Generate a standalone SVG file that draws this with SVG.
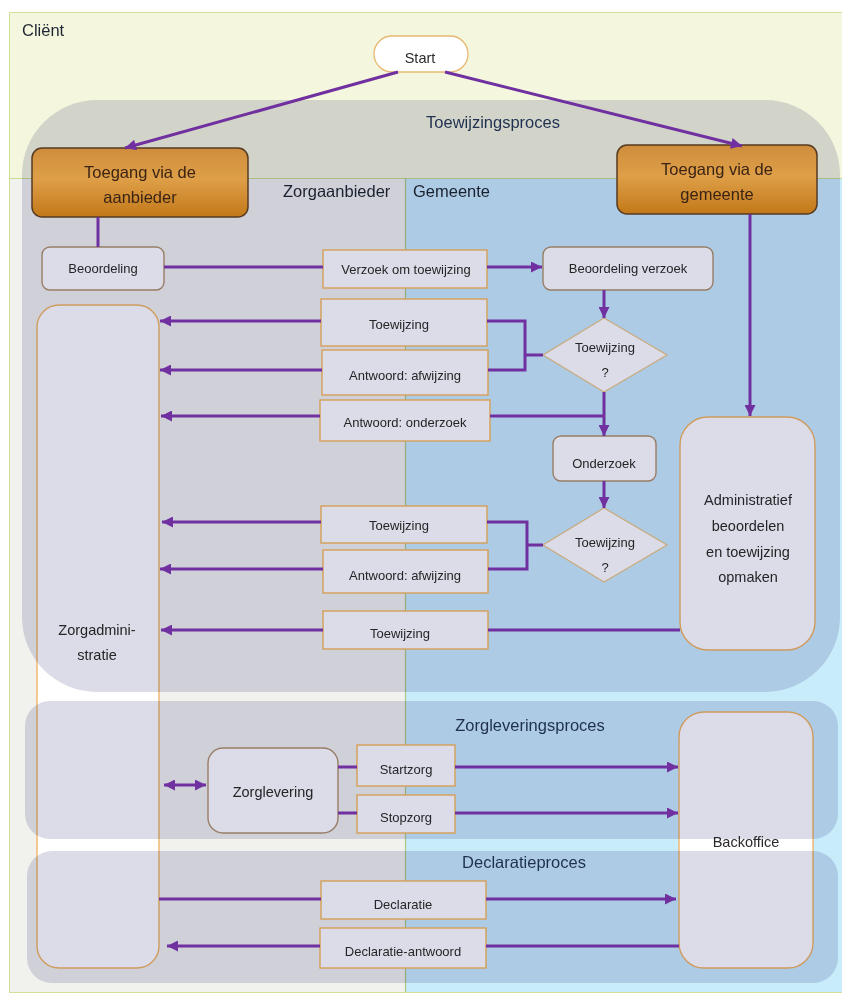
<svg xmlns="http://www.w3.org/2000/svg" width="842" height="994" viewBox="0 0 842 994">
<defs>
<linearGradient id="orange" x1="0" y1="0" x2="0" y2="1">
<stop offset="0" stop-color="#cf8d3c"/>
<stop offset="0.45" stop-color="#de9f48"/>
<stop offset="1" stop-color="#c27818"/>
</linearGradient>
<marker id="ah" viewBox="0 0 10 10" refX="10" refY="5" markerWidth="12" markerHeight="11" markerUnits="userSpaceOnUse" orient="auto-start-reverse">
<path d="M0,0 L10,5 L0,10 z" fill="#7030a0"/>
</marker>
</defs>
<style>
text{font-family:"Liberation Sans",Arial,sans-serif;fill:#2b2b2b}
.lbl{font-size:16.5px;fill:#1e2632}
.plbl{font-size:16.5px;fill:#1f3050;text-anchor:middle}
.bt{font-size:13px;text-anchor:middle;fill:#2a2a2a}
.big{font-size:14.5px;text-anchor:middle;fill:#2a2a2a}
.tg{font-size:16.5px;text-anchor:middle;fill:#3b2414}
.panel{fill:#dcdce8;mix-blend-mode:multiply}
.rbox{fill:#ffffff;stroke:#b09270;stroke-width:1.4}
.obox{fill:#ffffff;stroke:#f8b860;stroke-width:1.4}
.ybox{fill:#ffffff;stroke:#f0b468;stroke-width:1.4}
.dia{fill:#ffffff;stroke:#e8c890;stroke-width:1.4}
.tgbox{fill:url(#orange);stroke:#563a22;stroke-width:1.5}
.c{fill:none;stroke:#7030a0;stroke-width:3}
.a{marker-end:url(#ah)}
</style>

<g id="lanes">
<rect x="0" y="0" width="842" height="994" fill="#ffffff"/>
<rect id="lane-client" x="9.5" y="12.5" width="840" height="980" fill="#f4f6de" stroke="#cfe09a" stroke-width="1"/>
<rect id="lane-zorgaanbieder" x="10" y="178" width="395" height="814" fill="#f1f1ee"/>
<rect id="lane-gemeente" x="405" y="178" width="437" height="814" fill="#c9ecfb"/>
<line x1="10" y1="178.5" x2="842" y2="178.5" stroke="#c6dc8e" stroke-width="1"/>
<line x1="405.5" y1="178" x2="405.5" y2="992" stroke="#a9c985" stroke-width="1.2"/>
<text class="lbl" x="22" y="36">Cliënt</text>
<text class="lbl" x="283" y="197">Zorgaanbieder</text>
<text class="lbl" x="413" y="197">Gemeente</text>
</g>

<g id="start">
<rect x="374" y="36" width="94" height="36" rx="18" fill="#ffffff" stroke="#e8b872" stroke-width="1.3"/>
<text class="big" x="420" y="63">Start</text>
</g>
<g id="beoordeling">
<rect class="rbox" x="42" y="247" width="122" height="43" rx="8"/>
<text class="bt" x="103" y="273">Beoordeling</text>
</g>
<g id="verzoek">
<rect class="obox" x="323" y="250" width="164" height="38"/>
<text class="bt" x="406" y="274">Verzoek om toewijzing</text>
</g>
<g id="beoordeling-verzoek">
<rect class="rbox" x="543" y="247" width="170" height="43" rx="8"/>
<text class="bt" x="628" y="273">Beoordeling verzoek</text>
</g>
<g id="toewijzing-1">
<rect class="obox" x="321" y="299" width="166" height="47"/>
<text class="bt" x="399" y="329">Toewijzing</text>
</g>
<g id="afwijzing-1">
<rect class="obox" x="322" y="350" width="166" height="45"/>
<text class="bt" x="405" y="380">Antwoord: afwijzing</text>
</g>
<g id="onderzoek-antwoord">
<rect class="obox" x="320" y="400" width="170" height="41"/>
<text class="bt" x="405" y="427">Antwoord: onderzoek</text>
</g>
<g id="beslissing-1">
<polygon class="dia" points="604,318 667,355 604,392 543,355"/>
<text class="bt" x="605" y="352">Toewijzing</text>
<text class="bt" x="605" y="377">?</text>
</g>
<g id="onderzoek">
<rect class="rbox" x="553" y="436" width="103" height="45" rx="8"/>
<text class="bt" x="604" y="468">Onderzoek</text>
</g>
<g id="beslissing-2">
<polygon class="dia" points="604,508 667,545 604,582 543,545"/>
<text class="bt" x="605" y="547">Toewijzing</text>
<text class="bt" x="605" y="572">?</text>
</g>
<g id="toewijzing-2">
<rect class="obox" x="321" y="506" width="166" height="37"/>
<text class="bt" x="399" y="530">Toewijzing</text>
</g>
<g id="afwijzing-2">
<rect class="obox" x="323" y="550" width="165" height="43"/>
<text class="bt" x="405" y="580">Antwoord: afwijzing</text>
</g>
<g id="toewijzing-3">
<rect class="obox" x="323" y="611" width="165" height="38"/>
<text class="bt" x="400" y="638">Toewijzing</text>
</g>
<g id="administratief">
<rect class="ybox" x="680" y="417" width="135" height="233" rx="28"/>
<text class="big" x="748" y="505">Administratief</text>
<text class="big" x="748" y="531">beoordelen</text>
<text class="big" x="748" y="557">en toewijzing</text>
<text class="big" x="748" y="582">opmaken</text>
</g>
<g id="zorgadministratie">
<rect class="ybox" x="37" y="305" width="122" height="663" rx="22"/>
<text class="big" x="97" y="635">Zorgadmini-</text>
<text class="big" x="97" y="660">stratie</text>
</g>
<g id="zorglevering">
<rect class="rbox" x="208" y="748" width="130" height="85" rx="15"/>
<text class="big" x="273" y="797">Zorglevering</text>
</g>
<g id="startzorg">
<rect class="obox" x="357" y="745" width="98" height="41"/>
<text class="bt" x="406" y="774">Startzorg</text>
</g>
<g id="stopzorg">
<rect class="obox" x="357" y="795" width="98" height="38"/>
<text class="bt" x="406" y="822">Stopzorg</text>
</g>
<g id="backoffice">
<rect class="ybox" x="679" y="712" width="134" height="256" rx="25"/>
<text class="big" x="746" y="847">Backoffice</text>
</g>
<g id="declaratie">
<rect class="obox" x="321" y="881" width="165" height="38"/>
<text class="bt" x="403" y="909">Declaratie</text>
</g>
<g id="declaratie-antwoord">
<rect class="obox" x="320" y="928" width="166" height="40"/>
<text class="bt" x="403" y="956">Declaratie-antwoord</text>
</g>

<g id="panels">
<g id="toewijzingsproces">
<rect class="panel" x="22" y="100" width="818" height="592" rx="75"/>
<text class="plbl" x="493" y="128">Toewijzingsproces</text>
</g>
<g id="zorgleveringsproces">
<rect class="panel" x="25" y="701" width="813" height="138" rx="25"/>
<text class="plbl" x="530" y="731">Zorgleveringsproces</text>
</g>
<g id="declaratieproces">
<rect class="panel" x="27" y="851" width="811" height="132" rx="25"/>
<text class="plbl" x="524" y="868">Declaratieproces</text>
</g>
</g>

<g id="toegang-aanbieder">
<rect class="tgbox" x="32" y="148" width="216" height="69" rx="10"/>
<text class="tg" x="140" y="178">Toegang via de</text>
<text class="tg" x="140" y="203">aanbieder</text>
</g>
<g id="toegang-gemeente">
<rect class="tgbox" x="617" y="145" width="200" height="69" rx="10"/>
<text class="tg" x="717" y="175">Toegang via de</text>
<text class="tg" x="717" y="200">gemeente</text>
</g>

<g id="connectors">
<path class="c a" d="M398,72 L125,148"/>
<path class="c a" d="M445,72 L742,146"/>
<path class="c" d="M98,217 V247"/>
<path class="c" d="M164,267 H323"/>
<path class="c a" d="M487,267 H542"/>
<path class="c a" d="M604,290 V318"/>
<path class="c" d="M543,355 H525 M487,321 H525 V370 H488"/>
<path class="c a" d="M321,321 H160"/>
<path class="c a" d="M322,370 H160"/>
<path class="c a" d="M604,392 V436"/>
<path class="c" d="M490,416 H604"/>
<path class="c a" d="M320,416 H161"/>
<path class="c a" d="M604,481 V508"/>
<path class="c" d="M543,545 H527 M487,522 H527 V569 H488"/>
<path class="c a" d="M321,522 H162"/>
<path class="c a" d="M323,569 H160"/>
<path class="c" d="M680,630 H488"/>
<path class="c a" d="M323,630 H161"/>
<path class="c a" d="M750,214 V416"/>
<path class="c a" d="M164,785 H206" marker-start="url(#ah)"/>
<path class="c" d="M338,767 H357 M338,813 H357"/>
<path class="c a" d="M455,767 H678"/>
<path class="c a" d="M455,813 H678"/>
<path class="c" d="M159,899 H321"/>
<path class="c a" d="M486,899 H676"/>
<path class="c" d="M679,946 H486"/>
<path class="c a" d="M320,946 H167"/>
</g>
</svg>
